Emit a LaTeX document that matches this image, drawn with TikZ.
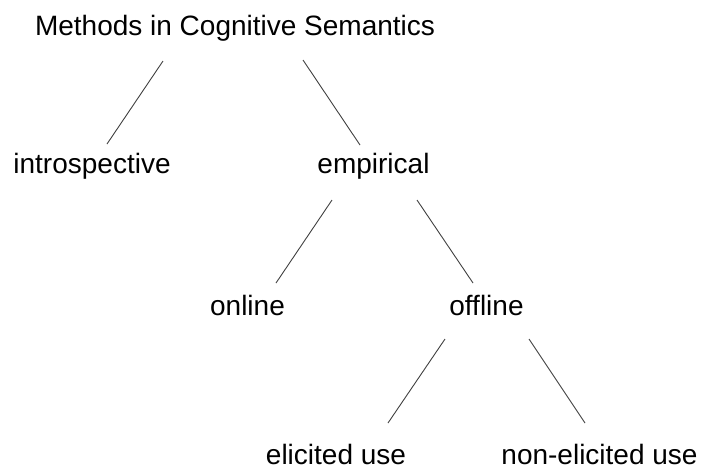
\documentclass[tikz,border=0pt]{standalone}
\usepackage{fontspec}
\setmainfont{Liberation Sans}
\newcommand{\branchColor}{black!75}

\begin{document}
\begin{tikzpicture}[
            x=1pt, y=-1pt,
            every node/.append style={inner sep=0pt, anchor=base, font=\fontsize{28pt}{34pt}\selectfont},
            branch/.style={draw=\branchColor, line width=0.9pt}
        ]
        \useasboundingbox (0,0) rectangle (701,467);

        % labels, placed by their baselines
        \node (methods) at (235,35) {Methods in Cognitive Semantics};
        \node (introspective) at (92,173) {introspective};
        \node (empirical) at (373.5,173) {empirical};
        \node (online) at (247.5,315) {online};
        \node (offline) at (486.5,315) {offline};
        \node (elicited) at (336,464) {elicited use};
        \node (nonelicited) at (599.5,464) {non-elicited use};

        % branches
        \draw[branch] ([xshift=-72pt, yshift=-26pt]methods.base) -- ([xshift=15pt, yshift=29pt]introspective.base);
        \draw[branch] ([xshift=68pt, yshift=-25pt]methods.base) -- ([xshift=-13.5pt, yshift=28pt]empirical.base);
        \draw[branch] ([xshift=-41.5pt, yshift=-27pt]empirical.base) -- ([xshift=28.5pt, yshift=32pt]online.base);
        \draw[branch] ([xshift=43.5pt, yshift=-27pt]empirical.base) -- ([xshift=-13.5pt, yshift=32pt]offline.base);
        \draw[branch] ([xshift=-41.5pt, yshift=-24pt]offline.base) -- ([xshift=52pt, yshift=41pt]elicited.base);
        \draw[branch] ([xshift=42.5pt, yshift=-24pt]offline.base) -- ([xshift=-14.5pt, yshift=41pt]nonelicited.base);

    \end{tikzpicture}
\end{document}
